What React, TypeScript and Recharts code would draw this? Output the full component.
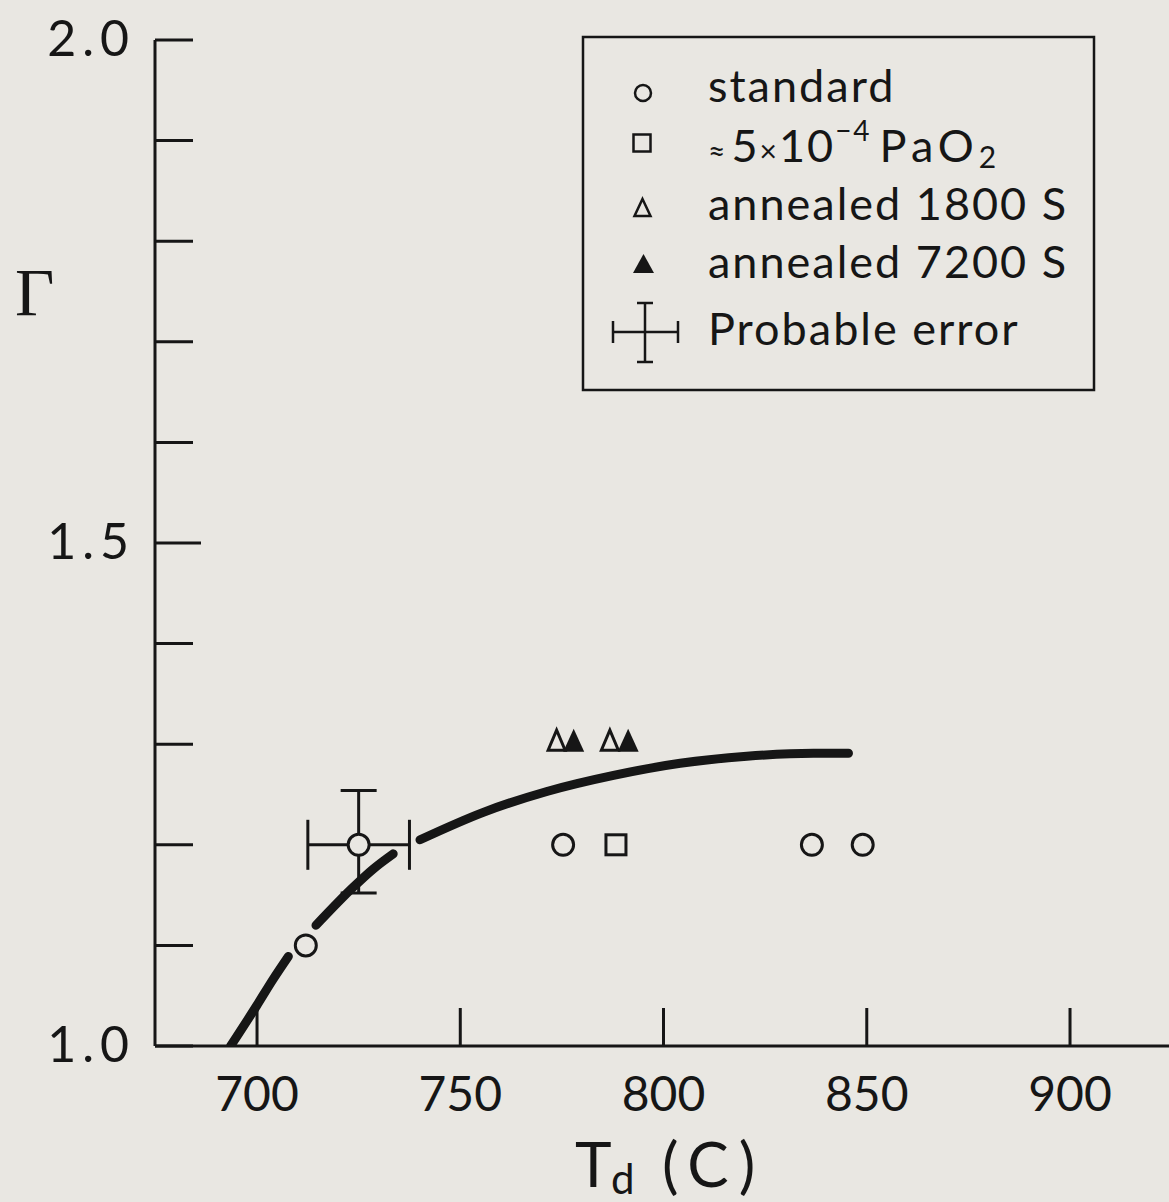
import React from "react";
import { ComposedChart, Line, Scatter, XAxis, YAxis, ErrorBar, Legend } from "recharts";

const INK = "#161616";
const PAPER = "#e9e7e2";
const FONT = "Lato, 'Open Sans', sans-serif";

// Γ against draw temperature T_d (C)
const standardT = [712, 775.3, 836.5, 849];
const standardG = [1.1, 1.2, 1.2, 1.2];

// standard run shown with its probable error
const errorT = [725];
const errorG = [1.2];
const errorTBar = [12.5];
const errorGBar = [[0.048, 0.054]];

const oxygenT = [788.3];
const oxygenG = [1.2];

const anneal1800T = [773.7, 786.8];
const anneal1800G = [1.304, 1.304];

const anneal7200T = [777.9, 791.3];
const anneal7200G = [1.304, 1.304];

// hand-faired curve, broken where it passes the markers
const curve1T = [693.5, 699.9, 703.9, 707.7];
const curve1G = [1.0, 1.04, 1.066, 1.089];
const curve2T = [714.5, 723.7, 728.6, 733.5];
const curve2G = [1.12, 1.158, 1.176, 1.191];
const curve3T = [740.1, 755.5, 771.3, 787.7, 804.1, 820.5, 836.9, 845.5];
const curve3G = [1.205, 1.232, 1.253, 1.269, 1.281, 1.288, 1.291, 1.291];

const xTicks = [700, 750, 800, 850, 900];
const yTicks = [1.0, 1.1, 1.2, 1.3, 1.4, 1.5, 1.6, 1.7, 1.8, 1.9, 2.0];
const yTickLabels: Record<string, string> = { "1": "1.0", "1.5": "1.5", "2": "2.0" };

const zip = (t: number[], g: number[]) => t.map((v, i) => ({ t: v, g: g[i] }));

const standardData = zip(standardT, standardG);
const errorData = errorT.map((v, i) => ({ t: v, g: errorG[i], tErr: errorTBar[i], gErr: errorGBar[i] }));
const oxygenData = zip(oxygenT, oxygenG);
const anneal1800Data = zip(anneal1800T, anneal1800G);
const anneal7200Data = zip(anneal7200T, anneal7200G);
const curves = [zip(curve1T, curve1G), zip(curve2T, curve2G), zip(curve3T, curve3G)];

const OpenCircle = (p: any) => (
  <circle cx={p.cx} cy={p.cy} r={10.5} fill={PAPER} stroke={INK} strokeWidth={3} />
);

const OpenSquare = (p: any) => (
  <rect x={p.cx - 10} y={p.cy - 10} width={20} height={20} fill={PAPER} stroke={INK} strokeWidth={3} />
);

const OpenTriangle = (p: any) => (
  <polygon
    points={`${p.cx},${p.cy - 10} ${p.cx + 8.5},${p.cy + 10} ${p.cx - 8.5},${p.cy + 10}`}
    fill={PAPER}
    stroke={INK}
    strokeWidth={3}
  />
);

const FilledTriangle = (p: any) => (
  <polygon
    points={`${p.cx},${p.cy - 11.5} ${p.cx + 10.5},${p.cy + 11.5} ${p.cx - 10.5},${p.cy + 11.5}`}
    fill={INK}
  />
);

const YTick = ({ x, y, payload }: any) => {
  const label = yTickLabels[String(payload.value)];
  const len = payload.value === 1.5 ? 46 : 38;
  return (
    <g>
      <line x1={x} y1={y} x2={x + len} y2={y} stroke={INK} strokeWidth={3} />
      {label && (
        <text x={x - 20} y={y + 16} textAnchor="end" fontFamily={FONT} fontSize={50} letterSpacing={6} fill={INK}>
          {label}
        </text>
      )}
    </g>
  );
};

const XTick = ({ x, y, payload }: any) => (
  <g>
    <line x1={x} y1={y} x2={x} y2={y - 38} stroke={INK} strokeWidth={3} />
    <text x={x} y={y + 65} textAnchor="middle" fontFamily={FONT} fontSize={48} fill={INK}>
      {payload.value}
    </text>
  </g>
);

const XTitle = () => (
  <g fontFamily={FONT} fill={INK}>
    <text x={575} y={1187} fontSize={62}>T</text>
    <text x={611} y={1194} fontSize={42}>d</text>
    <text x={662} y={1187} fontSize={62} letterSpacing={10}>(C)</text>
  </g>
);

const YTitle = () => (
  <text x={15} y={315} fontFamily="'Liberation Serif', 'DejaVu Serif', serif" fontSize={68} fill={INK}>
    Γ
  </text>
);

const LegendBox = () => (
  <svg width={516} height={358} style={{ display: "block" }}>
    <rect x={2} y={2} width={511} height={353} fill="none" stroke={INK} strokeWidth={2.5} />
    <g stroke={INK} strokeWidth={2.5} fill="none">
      <circle cx={62} cy={58} r={8} />
      <rect x={52.5} y={99.5} width={17} height={17} />
      <polygon points="61.5,164 69.5,181 53.5,181" />
      <line x1={32} y1={297} x2={97} y2={297} />
      <line x1={64} y1={268} x2={64} y2={327} />
      <line x1={32} y1={286} x2={32} y2={308} />
      <line x1={97} y1={286} x2={97} y2={308} />
      <line x1={56} y1={268} x2={72} y2={268} />
      <line x1={56} y1={327} x2={72} y2={327} />
    </g>
    <polygon points="62.5,219 73,238 52,238" fill={INK} />
    <g fontFamily={FONT} fontSize={45} letterSpacing={2} fill={INK}>
      <text x={127} y={67}>standard</text>
      <text x={127} y={127}>
        <tspan fontSize={30}>≈</tspan>
        <tspan dx={4}>5</tspan>
        <tspan fontSize={30}>×</tspan>
        <tspan>10</tspan>
        <tspan fontSize={28} dy={-21}>−4</tspan>
        <tspan dy={21} dx={8} letterSpacing={5}>PaO</tspan>
        <tspan fontSize={30} dy={6}>2</tspan>
      </text>
      <text x={127} y={185}>annealed 1800 S</text>
      <text x={127} y={243}>annealed 7200 S</text>
      <text x={127} y={310}>Probable error</text>
    </g>
  </svg>
);

export default function App() {
  return (
    <div style={{ position: "absolute", left: 0, top: 0, width: 1169, height: 1202, background: PAPER }}>
      <ComposedChart width={1169} height={1202} margin={{ top: 40, right: 0, bottom: 0, left: 0 }}>
        <XAxis
          type="number"
          dataKey="t"
          domain={[674.9, 924.35]}
          allowDataOverflow
          ticks={xTicks}
          interval={0}
          height={156}
          tickSize={0}
          tickMargin={0}
          tickLine={false}
          tick={<XTick />}
          axisLine={{ stroke: INK, strokeWidth: 3 }}
          label={<XTitle />}
        />
        <YAxis
          type="number"
          dataKey="g"
          domain={[1, 2]}
          allowDataOverflow
          ticks={yTicks}
          interval={0}
          width={155}
          tickSize={0}
          tickMargin={0}
          tickLine={false}
          tick={<YTick />}
          axisLine={{ stroke: INK, strokeWidth: 3 }}
          label={<YTitle />}
        />
        <Legend
          layout="vertical"
          align="center"
          verticalAlign="middle"
          wrapperStyle={{ left: 581, top: 35, width: 516, height: 358 }}
          content={() => <LegendBox />}
        />
        {curves.map((seg, i) => (
          <Line
            key={i}
            data={seg}
            dataKey="g"
            type="monotone"
            stroke={INK}
            strokeWidth={9}
            strokeLinecap="round"
            dot={false}
            activeDot={false}
            legendType="none"
            isAnimationActive={false}
          />
        ))}
        <Scatter data={errorData} shape={OpenCircle} legendType="none" isAnimationActive={false}>
          <ErrorBar dataKey="tErr" direction="x" width={25} stroke={INK} strokeWidth={3} />
          <ErrorBar dataKey="gErr" direction="y" width={18} stroke={INK} strokeWidth={3} />
        </Scatter>
        <Scatter data={standardData} shape={OpenCircle} legendType="none" isAnimationActive={false} />
        <Scatter data={oxygenData} shape={OpenSquare} legendType="none" isAnimationActive={false} />
        <Scatter data={anneal1800Data} shape={OpenTriangle} legendType="none" isAnimationActive={false} />
        <Scatter data={anneal7200Data} shape={FilledTriangle} legendType="none" isAnimationActive={false} />
      </ComposedChart>
    </div>
  );
}
